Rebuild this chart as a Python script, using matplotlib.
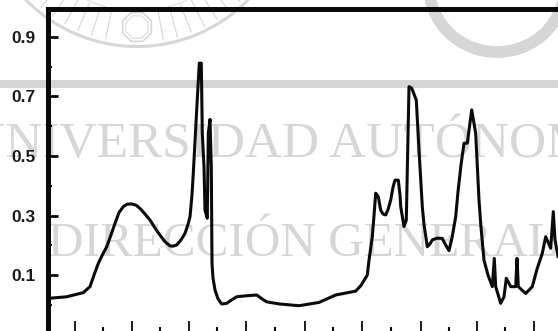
import numpy as np
import matplotlib
matplotlib.use("Agg")
import matplotlib.pyplot as plt
from matplotlib.patches import Circle, Ellipse, RegularPolygon, Rectangle

x_left = [49.3, 66.7, 83.3, 90, 94, 98.3, 102, 106.7, 111, 115, 119, 123.3, 127, 131.7, 136, 140, 145, 150,
          155, 160, 165, 170, 173, 176.7, 181, 185, 188, 190, 192,
          193.3, 196.7, 199.3, 201.3, 202.3, 204, 205, 207.3, 208.3, 210, 211.3, 212, 213, 215, 218, 221.7,
          226.7, 231, 236.7, 245, 256.7, 262, 266.7, 279]
y_left = [.022, .027, .041, .061, .100, .139, .165, .195, .235, .274, .310, .330, .338, .339, .335, .324, .305, .285,
          .258, .234, .212, .198, .197, .201, .218, .240, .270, .296, .370,
          .442, .655, .812, .812, .576, .464, .318, .291, .576, .623, .464, .139, .090, .050, .020, .003,
          .005, .015, .027, .030, .033, .020, .010, .003]
x_right = [299, 319, 335.7, 355.7, 361, 367.3, 369, 372.3, 374, 375.7, 378.3, 380.7, 383, 385.7, 388, 390.7, 393,
           395, 398.3, 400, 400.7,
           404, 406.3, 409, 411.7, 416.3, 419, 422.3, 424, 427.3, 430, 432.3, 437, 442.3, 445, 449, 452, 455.7,
           458, 461, 464, 467.3,
           471.7, 475.7, 479, 481, 484, 488, 492.3, 494.3, 495.7, 500.7, 504, 506.3, 510.7, 515.7, 517, 518.3,
           525.7, 532.3, 537, 542.3, 545.7, 550.7, 553.3, 555, 558]
y_right = [-.003, .008, .033, .046, .065, .100, .150, .229, .300, .375, .363, .318, .305, .302, .320, .352, .395,
           .419, .419, .370, .330,
           .263, .285, .733, .728, .688, .520, .330, .270, .195, .205, .218, .224, .223, .205, .182, .225, .296,
           .380, .470, .543, .543,
           .655, .576, .352, .260, .150, .100, .061, .156, .061, .005, .027, .089, .061, .061, .156, .061,
           .038, .061, .120, .173, .229, .190, .313, .218, .162]
x_values = x_left + x_right
y_values = y_left + y_right

y_major = [0.1, 0.3, 0.5, 0.7, 0.9]
y_minor = [0.0, 0.2, 0.4, 0.6, 0.8]
y_labels = ["0.1", "0.3", "0.5", "0.7", "0.9"]
x_major = [75, 132, 189, 246, 305, 362, 421, 477, 534]
x_minor = [103, 160, 217, 275, 333, 391, 449, 505]

W, H = 558, 331
fig = plt.figure(figsize=(W / 100, H / 100), dpi=100, facecolor="white")

# watermark layer, in picture pixels
bg = fig.add_axes([0, 0, 1, 1], zorder=0)
bg.set_xlim(0, W)
bg.set_ylim(H, 0)
bg.axis("off")
grey = "#d6d6d6"
bg.add_patch(Rectangle((0, 80), W, 8, color=grey, lw=0))
cx, cy = 137, -109
bg.add_patch(Circle((cx, cy), 155.5, fill=False, ec=grey, lw=2.2))
bg.add_patch(Circle((cx, cy), 120, fill=False, ec=grey, lw=0.6))
for a in np.arange(25, 156, 5.5):
    if abs(a - 90) < 9:
        continue
    t = np.radians(a)
    bg.plot([cx + 122 * np.cos(t), cx + 151 * np.cos(t)],
            [cy + 122 * np.sin(t), cy + 151 * np.sin(t)], color=grey, lw=0.8)
bg.add_patch(RegularPolygon((137, 27), 8, radius=15.5, orientation=np.pi / 8, fill=False, ec=grey, lw=1.2))
bg.add_patch(RegularPolygon((137, 27), 8, radius=12, orientation=np.pi / 8, fill=False, ec=grey, lw=0.7))
bg.add_patch(Ellipse((497, -14), 136, 132, fill=False, ec=grey, lw=8.5))
bg.text(-32, 157, "UNIVERSIDAD AUTÓNOMA", family="Liberation Serif", fontsize=37, color=grey,
        va="baseline", ha="left")
bg.text(48, 256, "DIRECCIÓN GENERAL", family="Liberation Serif", fontsize=35.5, color=grey,
        va="baseline", ha="left")

# chart
ax = fig.add_axes([48 / W, 0, (W - 48) / W, (H - 9) / H], zorder=1)
ax.patch.set_alpha(0)
ax.set_xlim(48, 558)
ax.set_ylim(-0.088, 0.994)
ax.plot(x_values, y_values, color="#0a0a0a", lw=2.2, solid_joinstyle="round", clip_on=True)
for side in ("right", "bottom"):
    ax.spines[side].set_visible(False)
ax.spines["left"].set_linewidth(3.6)
ax.spines["top"].set_linewidth(3.6)
ax.spines["left"].set_color("#0a0a0a")
ax.spines["top"].set_color("#0a0a0a")
ax.set_yticks(y_major, y_labels, family="Liberation Sans", fontweight="bold", fontsize=12.5, color="#1a1a1a")
ax.set_yticks(y_minor, minor=True)
ax.set_xticks(x_major, [""] * len(x_major))
ax.set_xticks(x_minor, minor=True)
ax.tick_params(axis="y", which="major", direction="in", length=7, width=2, pad=9, color="#0a0a0a")
ax.tick_params(axis="y", which="minor", direction="in", length=3, width=1.5, color="#0a0a0a")
ax.tick_params(axis="x", which="major", direction="in", length=7, width=1.3, color="#0a0a0a")
ax.tick_params(axis="x", which="minor", direction="in", length=3, width=1.5, color="#0a0a0a")

fig.savefig("out.png", dpi=100)
